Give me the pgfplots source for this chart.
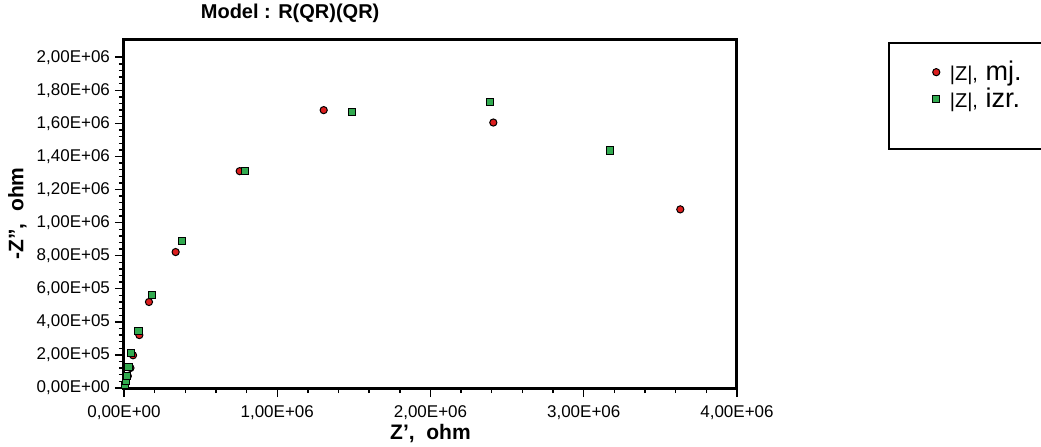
\documentclass[border=0pt]{standalone}
\usepackage{fontspec}
\setmainfont{Liberation Sans}
\usepackage{pgfplots}
\pgfplotsset{compat=1.18}
\definecolor{mjred}{RGB}{220,30,30}
\definecolor{izgreen}{RGB}{50,170,80}
\begin{document}
\begin{tikzpicture}
\begin{axis}[
    scale only axis,
    width=306.5pt, height=174.5pt,
    xmin=0, xmax=4e6,
    ymin=0, ymax=2.11e6,
    axis line style={line width=1.5pt},
    tick style={line width=0.7pt, black},
    tick align=outside,
    ytick pos=left,
    xtick pos=bottom,
    major tick length=4.5pt,
    minor tick length=2.5pt,
    minor tick num=4,
    xtick={0,1e6,2e6,3e6,4e6},
    xticklabels={{0,00E+00},{1,00E+06},{2,00E+06},{3,00E+06},{4,00E+06}},
    ytick={0,2e5,4e5,6e5,8e5,1e6,1.2e6,1.4e6,1.6e6,1.8e6,2e6},
    yticklabels={{0,00E+00},{2,00E+05},{4,00E+05},{6,00E+05},{8,00E+05},{1,00E+06},{1,20E+06},{1,40E+06},{1,60E+06},{1,80E+06},{2,00E+06}},
    scaled ticks=false,
    ticklabel style={font=\fontsize{8.5}{10}\selectfont},
    xticklabel style={yshift=-1pt},
    yticklabel style={xshift=1pt},
    xlabel={\textbf{Z',\ \ ohm}},
    ylabel={\textbf{-Z'',\ \ ohm}},
    label style={font=\fontsize{10.5}{12}\selectfont},
    xlabel style={at={(axis description cs:0.5,-0.13)}, anchor=center},
    ylabel style={at={(axis description cs:-0.174,0.5)}, anchor=center},
    clip=false,
    legend style={at={(rel axis cs:1.2465,0.992)}, anchor=north west,
        draw=black, line width=1.1pt, inner xsep=15pt, inner ysep=7pt,
        column sep=3pt, row sep=-2pt, font=\fontsize{13.5}{14}\selectfont},
    legend cell align=left,
]
\addplot[only marks, mark=*, mark size=1.8pt,
    mark options={fill=mjred, draw=black, line width=0.5pt}]
coordinates {
(10000,35000) (25000,72000) (42000,121000) (59000,198000)
(100000,320000) (163000,520000) (337000,822000) (755000,1311000)
(1303000,1680000) (2410000,1605000) (3630000,1080000)
};
\addlegendentry{{\fontsize{10}{10}\selectfont |Z|,} mj.}
\addplot[only marks, mark=square*, mark size=1.8pt,
    mark options={fill=izgreen, draw=black, line width=0.5pt}]
coordinates {
(8000,20000) (13000,40000) (20000,74000) (29000,125000) (46000,210000)
(94000,346000) (181000,564000) (377000,888000) (789000,1311000)
(1490000,1670000) (2386000,1730000) (3170000,1436000)
};
\addlegendentry{{\fontsize{10}{10}\selectfont |Z|,} izr.}
\addlegendimage{empty legend}
\addlegendentry{\rule{0pt}{7pt}}
\node[font=\bfseries\fontsize{10}{12}\selectfont] at (rel axis cs:0.271,1.0745) {Model : R(QR)(QR)};
\end{axis}
\pgfresetboundingbox
\useasboundingbox (-62pt,-29pt) rectangle (458.5pt,194pt);
\end{tikzpicture}
\end{document}
